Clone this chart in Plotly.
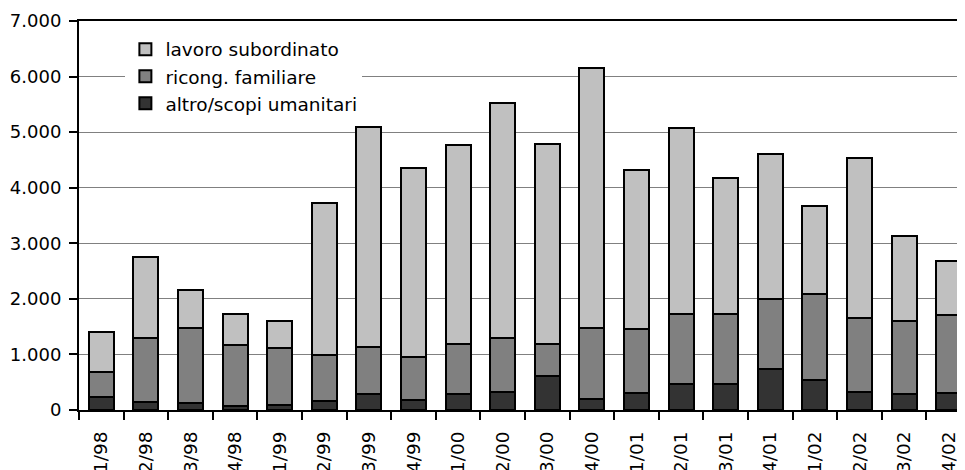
import plotly.graph_objects as go

categories = ["1/98", "2/98", "3/98", "4/98", "1/99", "2/99", "3/99", "4/99",
              "1/00", "2/00", "3/00", "4/00", "1/01", "2/01", "3/01", "4/01",
              "1/02", "2/02", "3/02", "4/02"]

altro = [230, 140, 125, 72, 85, 167, 293, 180, 288, 318,
         612, 204, 300, 462, 474, 732, 540, 324, 282, 306]
ricong = [450, 1160, 1350, 1092, 1036, 817, 841, 779, 900, 984,
          578, 1278, 1152, 1266, 1261, 1260, 1542, 1326, 1325, 1404]
lavoro = [730, 1460, 685, 571, 486, 2741, 3966, 3401, 3572, 4218,
          3600, 4668, 2873, 3342, 2435, 2623, 1583, 2880, 1523, 970]

series = [
    ("altro/scopi umanitari", altro, "#333333"),
    ("ricong. familiare", ricong, "#808080"),
    ("lavoro subordinato", lavoro, "#C0C0C0"),
]

fig = go.Figure()
for name, vals, col in series:
    fig.add_trace(go.Bar(
        x=categories, y=vals, name=name,
        marker=dict(color=col, line=dict(color="black", width=2)),
    ))

font = dict(family="DejaVu Sans", size=18, color="black")

fig.update_layout(
    width=963, height=462,
    margin=dict(l=71, r=0, t=13, b=60, autoexpand=False),
    barmode="stack", bargap=0.44,
    plot_bgcolor="white", paper_bgcolor="white",
    separators=",.",
    font=font,
    showlegend=True,
    legend=dict(
        x=0.052, y=0.975, xanchor="left", yanchor="top",
        bgcolor="white", traceorder="reversed",
        font=dict(family="DejaVu Sans", size=18.5, color="black"),
    ),
    xaxis=dict(
        type="category", range=[-0.5, 19.5], automargin=False,
        tickangle=-90, ticks="outside", tickson="boundaries",
        ticklen=8, tickwidth=2, tickcolor="black",
        showline=True, linecolor="black", linewidth=2, mirror=True,
        showgrid=False, ticklabelstandoff=12,
        tickfont=dict(family="DejaVu Sans", size=18.5, color="black"),
    ),
    yaxis=dict(
        range=[0, 7000], dtick=1000, tickformat=",d", automargin=False,
        ticks="outside", ticklen=8, tickwidth=2, tickcolor="black",
        showline=True, linecolor="black", linewidth=2,
        showgrid=True, gridcolor="#808080", gridwidth=1,
        zeroline=False, ticklabelstandoff=4,
    ),
)

fig.write_html("out.html")
